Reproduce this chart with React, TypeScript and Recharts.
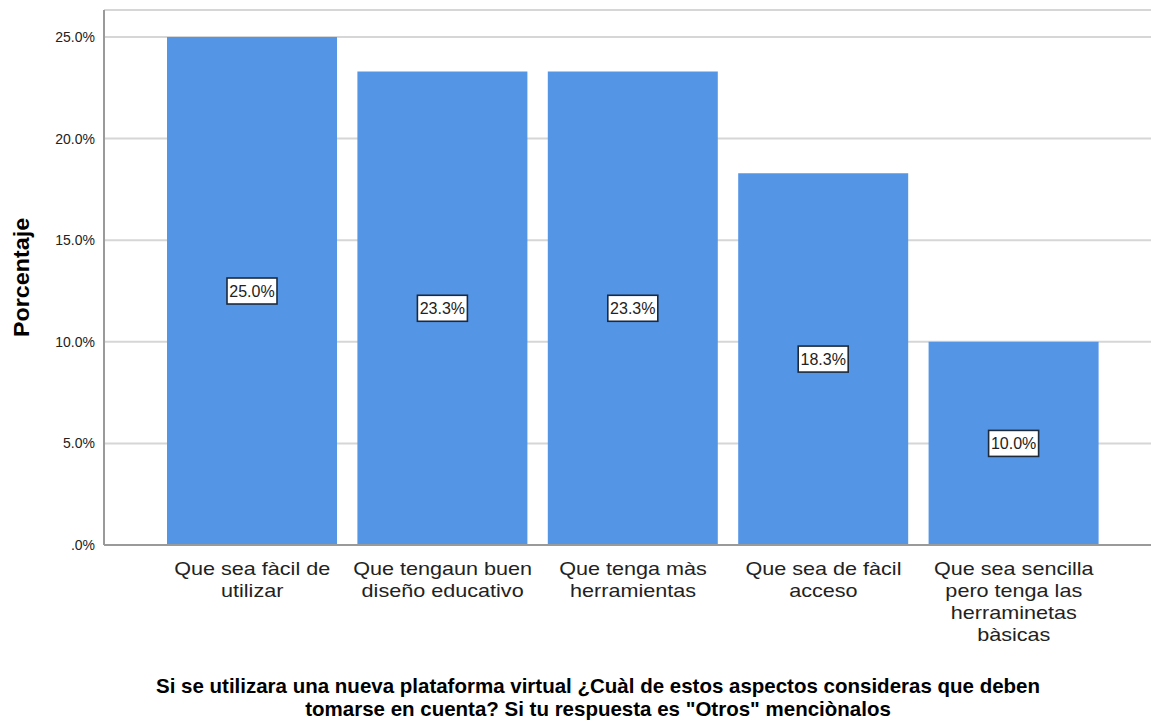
import React from "react";
import { BarChart, Bar, XAxis, YAxis, CartesianGrid, LabelList } from "recharts";

const categories = [
  "Que sea fàcil de\nutilizar",
  "Que tengaun buen\ndiseño educativo",
  "Que tenga màs\nherramientas",
  "Que sea de fàcil\nacceso",
  "Que sea sencilla\npero tenga las\nherraminetas\nbàsicas",
];
const percentages = [25.0, 23.3, 23.3, 18.3, 10.0];
const yTicks = [0, 5, 10, 15, 20, 25];
const yTitle = "Porcentaje";
const xTitleLines = [
  "Si se utilizara una nueva plataforma virtual ¿Cuàl de estos aspectos consideras que deben",
  "tomarse en cuenta? Si tu respuesta es \"Otros\" menciònalos",
];

const data = categories.map((c, i) => ({ name: c, value: percentages[i] }));

const FONT = "'Liberation Sans', Arial, sans-serif";

const fmtY = (v: number) => (v === 0 ? ".0%" : v.toFixed(1) + "%");

const XTick = (props: any) => {
  const { x, y, payload } = props;
  const lines = String(payload.value).split("\n");
  return (
    <g transform={`translate(${x},${y})`}>
      {lines.map((l, i) => (
        <text
          key={i}
          x={0}
          y={28 + i * 22}
          textAnchor="middle"
          fontFamily={FONT}
          fontSize={18}
          fill="#222"
          transform="scale(1.2,1)"
        >
          {l}
        </text>
      ))}
    </g>
  );
};

const YTick = (props: any) => {
  const { x, y, payload } = props;
  return (
    <text x={x} y={y + 5} textAnchor="end" fontFamily={FONT} fontSize={14} fill="#222">
      {fmtY(payload.value)}
    </text>
  );
};

const ValueLabel = (props: any) => {
  const { x, y, width, height, value } = props;
  const cx = x + width / 2;
  const cy = y + height / 2;
  const w = 50;
  const h = 26;
  return (
    <g>
      <rect x={cx - w / 2} y={cy - h / 2} width={w} height={h} fill="#fff" stroke="#1c2a3c" strokeWidth={1.6} />
      <text x={cx} y={cy + 6} textAnchor="middle" fontFamily={FONT} fontSize={16} fill="#222">
        {Number(value).toFixed(1) + "%"}
      </text>
    </g>
  );
};

export default function App() {
  return (
    <div style={{ position: "absolute", left: 0, top: 0, width: 1151, height: 721, background: "#fff" }}>
      <BarChart
        width={1151}
        height={721}
        data={data}
        margin={{ top: 10, right: 0, left: 0, bottom: 0 }}
        barSize={170}
      >
        <CartesianGrid vertical={false} stroke="#d6d6d6" strokeWidth={2} />
        <XAxis
          dataKey="name"
          interval={0}
          height={176}
          padding={{ left: 53, right: 42 }}
          tick={<XTick />}
          tickLine={false}
          tickSize={0}
          axisLine={{ stroke: "#9a9a9a", strokeWidth: 2 }}
          label={{
            content: () => (
              <g>
                {xTitleLines.map((l, i) => (
                  <text
                    key={i}
                    x={598}
                    y={693 + i * 23}
                    textAnchor="middle"
                    fontFamily={FONT}
                    fontWeight="bold"
                    fontSize={20.5}
                    fill="#000"
                  >
                    {l}
                  </text>
                ))}
              </g>
            ),
          }}
        />
        <YAxis
          width={104}
          domain={[0, 26.33]}
          ticks={yTicks}
          tick={<YTick />}
          tickLine={false}
          tickSize={0}
          tickMargin={9}
          axisLine={{ stroke: "#9a9a9a", strokeWidth: 2 }}
          allowDataOverflow
          label={{
            content: () => (
              <text
                x={0}
                y={0}
                textAnchor="middle"
                fontFamily={FONT}
                fontWeight="bold"
                fontSize={22}
                fill="#000"
                transform="translate(29 277.5) rotate(-90) scale(1.06,1)"
              >
                {yTitle}
              </text>
            ),
          }}
        />
        <Bar dataKey="value" fill="#5595e6" isAnimationActive={false}>
          <LabelList dataKey="value" content={<ValueLabel />} />
        </Bar>
      </BarChart>
    </div>
  );
}
